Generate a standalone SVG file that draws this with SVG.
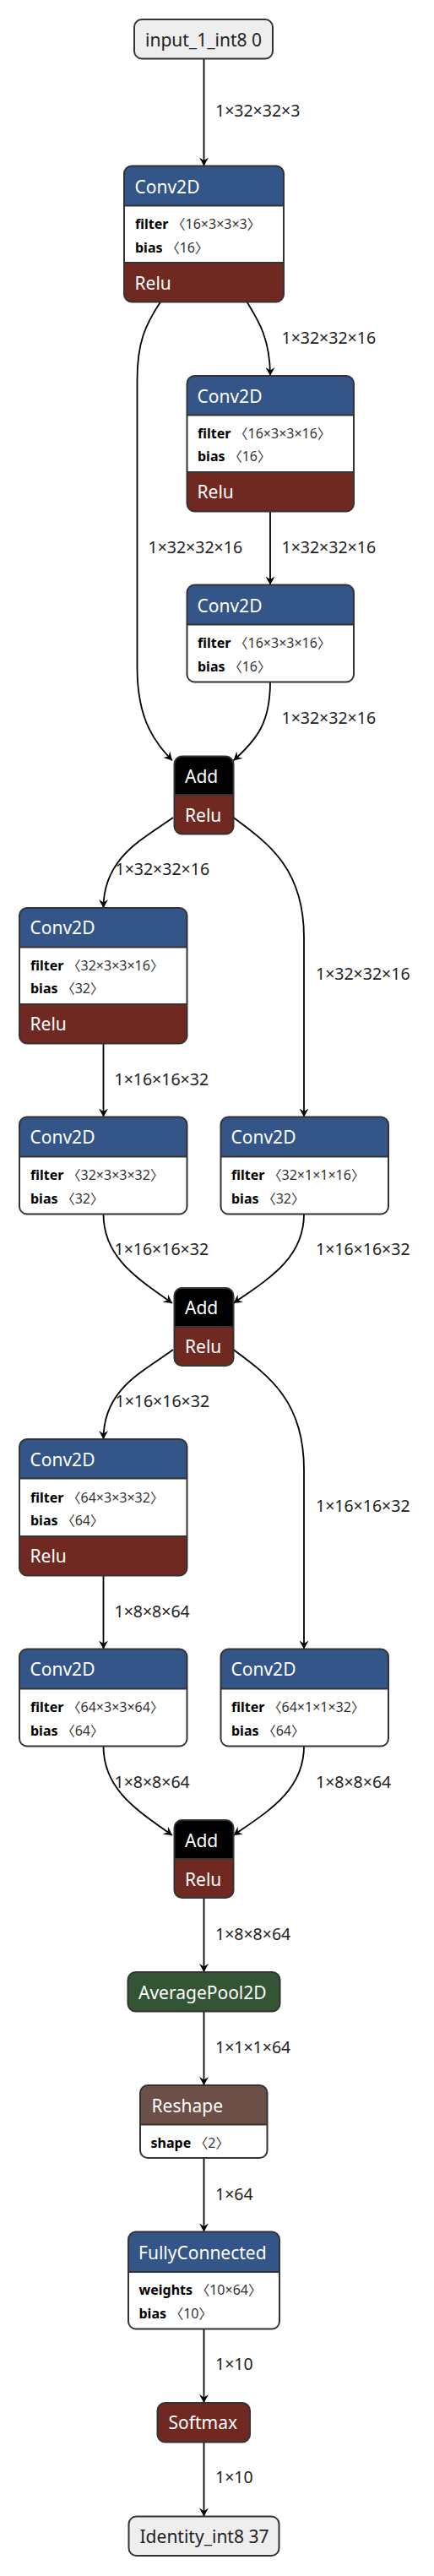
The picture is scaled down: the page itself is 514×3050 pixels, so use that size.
<svg xmlns="http://www.w3.org/2000/svg" width="514" height="3050" viewBox="0 0 514 3050">
<style>
text{font-family:"Noto Sans","Noto Sans CJK SC",sans-serif}
.edge{fill:none;stroke:#000;stroke-width:1.8;marker-end:url(#arrow)}
.el{font-size:19.5px;fill:#222}
.t{font-size:21px;fill:#fff}
.td{font-size:21px;fill:#222}
.bd{fill:none;stroke:#333;stroke-width:2}
.sep{stroke:#333;stroke-width:2}
.at{font-size:16px}
.an{font-weight:bold;fill:#000}
.av{fill:#333}
.layer{fill:#335588}
.act{fill:#702921}
.add{fill:#000}
.pool{fill:#335533}
.shp{fill:#6c4f47}
.io{fill:#eeeeee}
.body{fill:#fff}
</style>
<defs>
<marker id="arrow" viewBox="0 0 10 11" refX="10" refY="5.5" markerWidth="10" markerHeight="11" markerUnits="userSpaceOnUse" orient="auto">
<path d="M0,0 L10,5.5 L0,11 L3.5,5.5 z" fill="#000"/>
</marker>
</defs>
<rect width="514" height="3050" fill="#fff"/>
<g id="connectors">
<path class="edge" d="M241.5,69.5 V196.5"/>
<path class="edge" d="M292.5,357.5 C305,378 320,400 320,445"/>
<path class="edge" d="M190,357.5 C172,385 162.5,405 162.5,450 L162.5,790 C162.5,855 185,880 204,900.5"/>
<path class="edge" d="M320,605.5 V692.5"/>
<path class="edge" d="M320,807.5 C320,855 305,875 276.5,900.5"/>
<path class="edge" d="M205,968 C170,993 122.5,1015 122.5,1075"/>
<path class="edge" d="M276.5,968 C320,1000 360,1030 360,1110 V1322.5"/>
<path class="edge" d="M122.5,1235.5 V1322.5"/>
<path class="edge" d="M122.5,1437.5 C122.5,1490 165,1515 204,1543"/>
<path class="edge" d="M360,1437.5 C360,1490 317,1515 276.5,1543"/>
<path class="edge" d="M205,1598 C168,1625 122.5,1645 122.5,1704"/>
<path class="edge" d="M276.5,1598 C320,1630 360,1660 360,1740 V1952.5"/>
<path class="edge" d="M122.5,1865.5 V1952.5"/>
<path class="edge" d="M122.5,2067.5 C122.5,2120 165,2145 204,2173"/>
<path class="edge" d="M360,2067.5 C360,2120 317,2145 276.5,2173"/>
<path class="edge" d="M241.5,2247.5 V2335"/>
<path class="edge" d="M241.5,2381.5 V2469"/>
<path class="edge" d="M241.5,2555 V2642.5"/>
<path class="edge" d="M241.5,2757.5 V2845"/>
<path class="edge" d="M241.5,2891.5 V2979.5"/>
<text class="el" x="255" y="138">1×32×32×3</text>
<text class="el" x="333.5" y="406.5">1×32×32×16</text>
<text class="el" x="175.5" y="655">1×32×32×16</text>
<text class="el" x="333.5" y="655">1×32×32×16</text>
<text class="el" x="333.5" y="856.5">1×32×32×16</text>
<text class="el" x="136.5" y="1036">1×32×32×16</text>
<text class="el" x="374" y="1160">1×32×32×16</text>
<text class="el" x="135.5" y="1284.5">1×16×16×32</text>
<text class="el" x="135.5" y="1486">1×16×16×32</text>
<text class="el" x="374" y="1486">1×16×16×32</text>
<text class="el" x="136.5" y="1665.5">1×16×16×32</text>
<text class="el" x="374" y="1790">1×16×16×32</text>
<text class="el" x="135.5" y="1914.5">1×8×8×64</text>
<text class="el" x="135.5" y="2116.5">1×8×8×64</text>
<text class="el" x="374" y="2116.5">1×8×8×64</text>
<text class="el" x="255" y="2296.5">1×8×8×64</text>
<text class="el" x="255" y="2431">1×1×1×64</text>
<text class="el" x="255" y="2605">1×64</text>
<text class="el" x="255" y="2806">1×10</text>
<text class="el" x="255" y="2940">1×10</text>
</g>
<g id="input_1_int8_0">
<rect class="io" x="159" y="23" width="164" height="46.5" rx="9"/>
<rect class="bd" x="159" y="23" width="164" height="46.5" rx="9"/>
<text class="td" x="172" y="55">input_1_int8 0</text>
</g>
<g id="conv2d_1">
<path class="layer" d="M147,243.5 V205.5 A9,9 0 0 1 156,196.5 H327 A9,9 0 0 1 336,205.5 V243.5 Z"/>
<rect class="body" x="147" y="243.5" width="189" height="67.5"/>
<path class="act" d="M147,311 H336 V348.5 A9,9 0 0 1 327,357.5 H156 A9,9 0 0 1 147,348.5 Z"/>
<path class="sep" d="M147,243.5 H336 M147,311 H336"/>
<rect class="bd" x="147" y="196.5" width="189" height="161" rx="9"/>
<text class="t" x="159.5" y="228.5">Conv2D</text>
<text class="at" x="160" y="271"><tspan class="an">filter</tspan><tspan class="av"> 〈16×3×3×3〉</tspan></text>
<text class="at" x="160" y="298.5"><tspan class="an">bias</tspan><tspan class="av"> 〈16〉</tspan></text>
<text class="t" x="159.5" y="342.5">Relu</text>
</g>
<g id="conv2d_2">
<path class="layer" d="M221.5,491.5 V454 A9,9 0 0 1 230.5,445 H410 A9,9 0 0 1 419,454 V491.5 Z"/>
<rect class="body" x="221.5" y="491.5" width="197.5" height="67.5"/>
<path class="act" d="M221.5,559 H419 V596.5 A9,9 0 0 1 410,605.5 H230.5 A9,9 0 0 1 221.5,596.5 Z"/>
<path class="sep" d="M221.5,491.5 H419 M221.5,559 H419"/>
<rect class="bd" x="221.5" y="445" width="197.5" height="160.5" rx="9"/>
<text class="t" x="233.5" y="476.5">Conv2D</text>
<text class="at" x="234" y="518.5"><tspan class="an">filter</tspan><tspan class="av"> 〈16×3×3×16〉</tspan></text>
<text class="at" x="234" y="546"><tspan class="an">bias</tspan><tspan class="av"> 〈16〉</tspan></text>
<text class="t" x="233.5" y="590">Relu</text>
</g>
<g id="conv2d_3">
<path class="layer" d="M221.5,739.5 V701.5 A9,9 0 0 1 230.5,692.5 H410 A9,9 0 0 1 419,701.5 V739.5 Z"/>
<path class="body" d="M221.5,739.5 H419 V798.5 A9,9 0 0 1 410,807.5 H230.5 A9,9 0 0 1 221.5,798.5 Z"/>
<path class="sep" d="M221.5,739.5 H419"/>
<rect class="bd" x="221.5" y="692.5" width="197.5" height="115" rx="9"/>
<text class="t" x="233.5" y="724.5">Conv2D</text>
<text class="at" x="234" y="766.5"><tspan class="an">filter</tspan><tspan class="av"> 〈16×3×3×16〉</tspan></text>
<text class="at" x="234" y="794.5"><tspan class="an">bias</tspan><tspan class="av"> 〈16〉</tspan></text>
</g>
<g id="add_1">
<path class="add" d="M206.5,941 V904.5 A9,9 0 0 1 215.5,895.5 H267.5 A9,9 0 0 1 276.5,904.5 V941 Z"/>
<path class="act" d="M206.5,941 H276.5 V978.5 A9,9 0 0 1 267.5,987.5 H215.5 A9,9 0 0 1 206.5,978.5 Z"/>
<path class="sep" d="M206.5,941 H276.5"/>
<rect class="bd" x="206.5" y="895.5" width="70" height="92" rx="9"/>
<text class="t" x="219" y="926.5">Add</text>
<text class="t" x="219" y="972.5">Relu</text>
</g>
<g id="conv2d_4">
<path class="layer" d="M23,1121.5 V1084 A9,9 0 0 1 32,1075 H212.5 A9,9 0 0 1 221.5,1084 V1121.5 Z"/>
<rect class="body" x="23" y="1121.5" width="198.5" height="67.5"/>
<path class="act" d="M23,1189 H221.5 V1226.5 A9,9 0 0 1 212.5,1235.5 H32 A9,9 0 0 1 23,1226.5 Z"/>
<path class="sep" d="M23,1121.5 H221.5 M23,1189 H221.5"/>
<rect class="bd" x="23" y="1075" width="198.5" height="160.5" rx="9"/>
<text class="t" x="35.5" y="1106">Conv2D</text>
<text class="at" x="36" y="1148.5"><tspan class="an">filter</tspan><tspan class="av"> 〈32×3×3×16〉</tspan></text>
<text class="at" x="36" y="1176"><tspan class="an">bias</tspan><tspan class="av"> 〈32〉</tspan></text>
<text class="t" x="35.5" y="1220">Relu</text>
</g>
<g id="conv2d_5">
<path class="layer" d="M23,1369.5 V1331.5 A9,9 0 0 1 32,1322.5 H212.5 A9,9 0 0 1 221.5,1331.5 V1369.5 Z"/>
<path class="body" d="M23,1369.5 H221.5 V1428.5 A9,9 0 0 1 212.5,1437.5 H32 A9,9 0 0 1 23,1428.5 Z"/>
<path class="sep" d="M23,1369.5 H221.5"/>
<rect class="bd" x="23" y="1322.5" width="198.5" height="115" rx="9"/>
<text class="t" x="35.5" y="1354">Conv2D</text>
<text class="at" x="36" y="1396.5"><tspan class="an">filter</tspan><tspan class="av"> 〈32×3×3×32〉</tspan></text>
<text class="at" x="36" y="1424.5"><tspan class="an">bias</tspan><tspan class="av"> 〈32〉</tspan></text>
</g>
<g id="conv2d_6">
<path class="layer" d="M261.5,1369.5 V1331.5 A9,9 0 0 1 270.5,1322.5 H451 A9,9 0 0 1 460,1331.5 V1369.5 Z"/>
<path class="body" d="M261.5,1369.5 H460 V1428.5 A9,9 0 0 1 451,1437.5 H270.5 A9,9 0 0 1 261.5,1428.5 Z"/>
<path class="sep" d="M261.5,1369.5 H460"/>
<rect class="bd" x="261.5" y="1322.5" width="198.5" height="115" rx="9"/>
<text class="t" x="273.5" y="1354">Conv2D</text>
<text class="at" x="274" y="1396.5"><tspan class="an">filter</tspan><tspan class="av"> 〈32×1×1×16〉</tspan></text>
<text class="at" x="274" y="1424.5"><tspan class="an">bias</tspan><tspan class="av"> 〈32〉</tspan></text>
</g>
<g id="add_2">
<path class="add" d="M206.5,1571 V1534 A9,9 0 0 1 215.5,1525 H267.5 A9,9 0 0 1 276.5,1534 V1571 Z"/>
<path class="act" d="M206.5,1571 H276.5 V1608 A9,9 0 0 1 267.5,1617 H215.5 A9,9 0 0 1 206.5,1608 Z"/>
<path class="sep" d="M206.5,1571 H276.5"/>
<rect class="bd" x="206.5" y="1525" width="70" height="92" rx="9"/>
<text class="t" x="219" y="1556">Add</text>
<text class="t" x="219" y="1601.5">Relu</text>
</g>
<g id="conv2d_7">
<path class="layer" d="M23,1750.5 V1713 A9,9 0 0 1 32,1704 H212.5 A9,9 0 0 1 221.5,1713 V1750.5 Z"/>
<rect class="body" x="23" y="1750.5" width="198.5" height="68.5"/>
<path class="act" d="M23,1819 H221.5 V1856.5 A9,9 0 0 1 212.5,1865.5 H32 A9,9 0 0 1 23,1856.5 Z"/>
<path class="sep" d="M23,1750.5 H221.5 M23,1819 H221.5"/>
<rect class="bd" x="23" y="1704" width="198.5" height="161.5" rx="9"/>
<text class="t" x="35.5" y="1736">Conv2D</text>
<text class="at" x="36" y="1778.5"><tspan class="an">filter</tspan><tspan class="av"> 〈64×3×3×32〉</tspan></text>
<text class="at" x="36" y="1806"><tspan class="an">bias</tspan><tspan class="av"> 〈64〉</tspan></text>
<text class="t" x="35.5" y="1850">Relu</text>
</g>
<g id="conv2d_8">
<path class="layer" d="M23,1999.5 V1961.5 A9,9 0 0 1 32,1952.5 H212.5 A9,9 0 0 1 221.5,1961.5 V1999.5 Z"/>
<path class="body" d="M23,1999.5 H221.5 V2058.5 A9,9 0 0 1 212.5,2067.5 H32 A9,9 0 0 1 23,2058.5 Z"/>
<path class="sep" d="M23,1999.5 H221.5"/>
<rect class="bd" x="23" y="1952.5" width="198.5" height="115" rx="9"/>
<text class="t" x="35.5" y="1984">Conv2D</text>
<text class="at" x="36" y="2026.5"><tspan class="an">filter</tspan><tspan class="av"> 〈64×3×3×64〉</tspan></text>
<text class="at" x="36" y="2054.5"><tspan class="an">bias</tspan><tspan class="av"> 〈64〉</tspan></text>
</g>
<g id="conv2d_9">
<path class="layer" d="M261.5,1999.5 V1961.5 A9,9 0 0 1 270.5,1952.5 H451 A9,9 0 0 1 460,1961.5 V1999.5 Z"/>
<path class="body" d="M261.5,1999.5 H460 V2058.5 A9,9 0 0 1 451,2067.5 H270.5 A9,9 0 0 1 261.5,2058.5 Z"/>
<path class="sep" d="M261.5,1999.5 H460"/>
<rect class="bd" x="261.5" y="1952.5" width="198.5" height="115" rx="9"/>
<text class="t" x="273.5" y="1984">Conv2D</text>
<text class="at" x="274" y="2026.5"><tspan class="an">filter</tspan><tspan class="av"> 〈64×1×1×32〉</tspan></text>
<text class="at" x="274" y="2054.5"><tspan class="an">bias</tspan><tspan class="av"> 〈64〉</tspan></text>
</g>
<g id="add_3">
<path class="add" d="M206.5,2201 V2164 A9,9 0 0 1 215.5,2155 H267.5 A9,9 0 0 1 276.5,2164 V2201 Z"/>
<path class="act" d="M206.5,2201 H276.5 V2238 A9,9 0 0 1 267.5,2247 H215.5 A9,9 0 0 1 206.5,2238 Z"/>
<path class="sep" d="M206.5,2201 H276.5"/>
<rect class="bd" x="206.5" y="2155" width="70" height="92" rx="9"/>
<text class="t" x="219" y="2186.5">Add</text>
<text class="t" x="219" y="2232.5">Relu</text>
</g>
<g id="averagepool2d">
<rect class="pool" x="151.5" y="2335" width="180" height="46.5" rx="9"/>
<rect class="bd" x="151.5" y="2335" width="180" height="46.5" rx="9"/>
<text class="t" x="164" y="2366.5">AveragePool2D</text>
</g>
<g id="reshape">
<path class="shp" d="M166,2515.5 V2478 A9,9 0 0 1 175,2469 H307.5 A9,9 0 0 1 316.5,2478 V2515.5 Z"/>
<path class="body" d="M166,2515.5 H316.5 V2546 A9,9 0 0 1 307.5,2555 H175 A9,9 0 0 1 166,2546 Z"/>
<path class="sep" d="M166,2515.5 H316.5"/>
<rect class="bd" x="166" y="2469" width="150.5" height="86" rx="9"/>
<text class="t" x="179.5" y="2500.5">Reshape</text>
<text class="at" x="178.5" y="2542.5"><tspan class="an">shape</tspan><tspan class="av"> 〈2〉</tspan></text>
</g>
<g id="fullyconnected">
<path class="layer" d="M152,2690 V2651.5 A9,9 0 0 1 161,2642.5 H322 A9,9 0 0 1 331,2651.5 V2690 Z"/>
<path class="body" d="M152,2690 H331 V2748.5 A9,9 0 0 1 322,2757.5 H161 A9,9 0 0 1 152,2748.5 Z"/>
<path class="sep" d="M152,2690 H331"/>
<rect class="bd" x="152" y="2642.5" width="179" height="115" rx="9"/>
<text class="t" x="164" y="2674.5">FullyConnected</text>
<text class="at" x="164.5" y="2716.5"><tspan class="an">weights</tspan><tspan class="av"> 〈10×64〉</tspan></text>
<text class="at" x="164.5" y="2744.5"><tspan class="an">bias</tspan><tspan class="av"> 〈10〉</tspan></text>
</g>
<g id="softmax">
<rect class="act" x="186.5" y="2845" width="109.5" height="46.5" rx="9"/>
<rect class="bd" x="186.5" y="2845" width="109.5" height="46.5" rx="9"/>
<text class="t" x="199.5" y="2876">Softmax</text>
</g>
<g id="identity_int8_37">
<rect class="io" x="152.5" y="2979.5" width="178" height="46.5" rx="9"/>
<rect class="bd" x="152.5" y="2979.5" width="178" height="46.5" rx="9"/>
<text class="td" x="165.5" y="3010.5">Identity_int8 37</text>
</g>
</svg>
